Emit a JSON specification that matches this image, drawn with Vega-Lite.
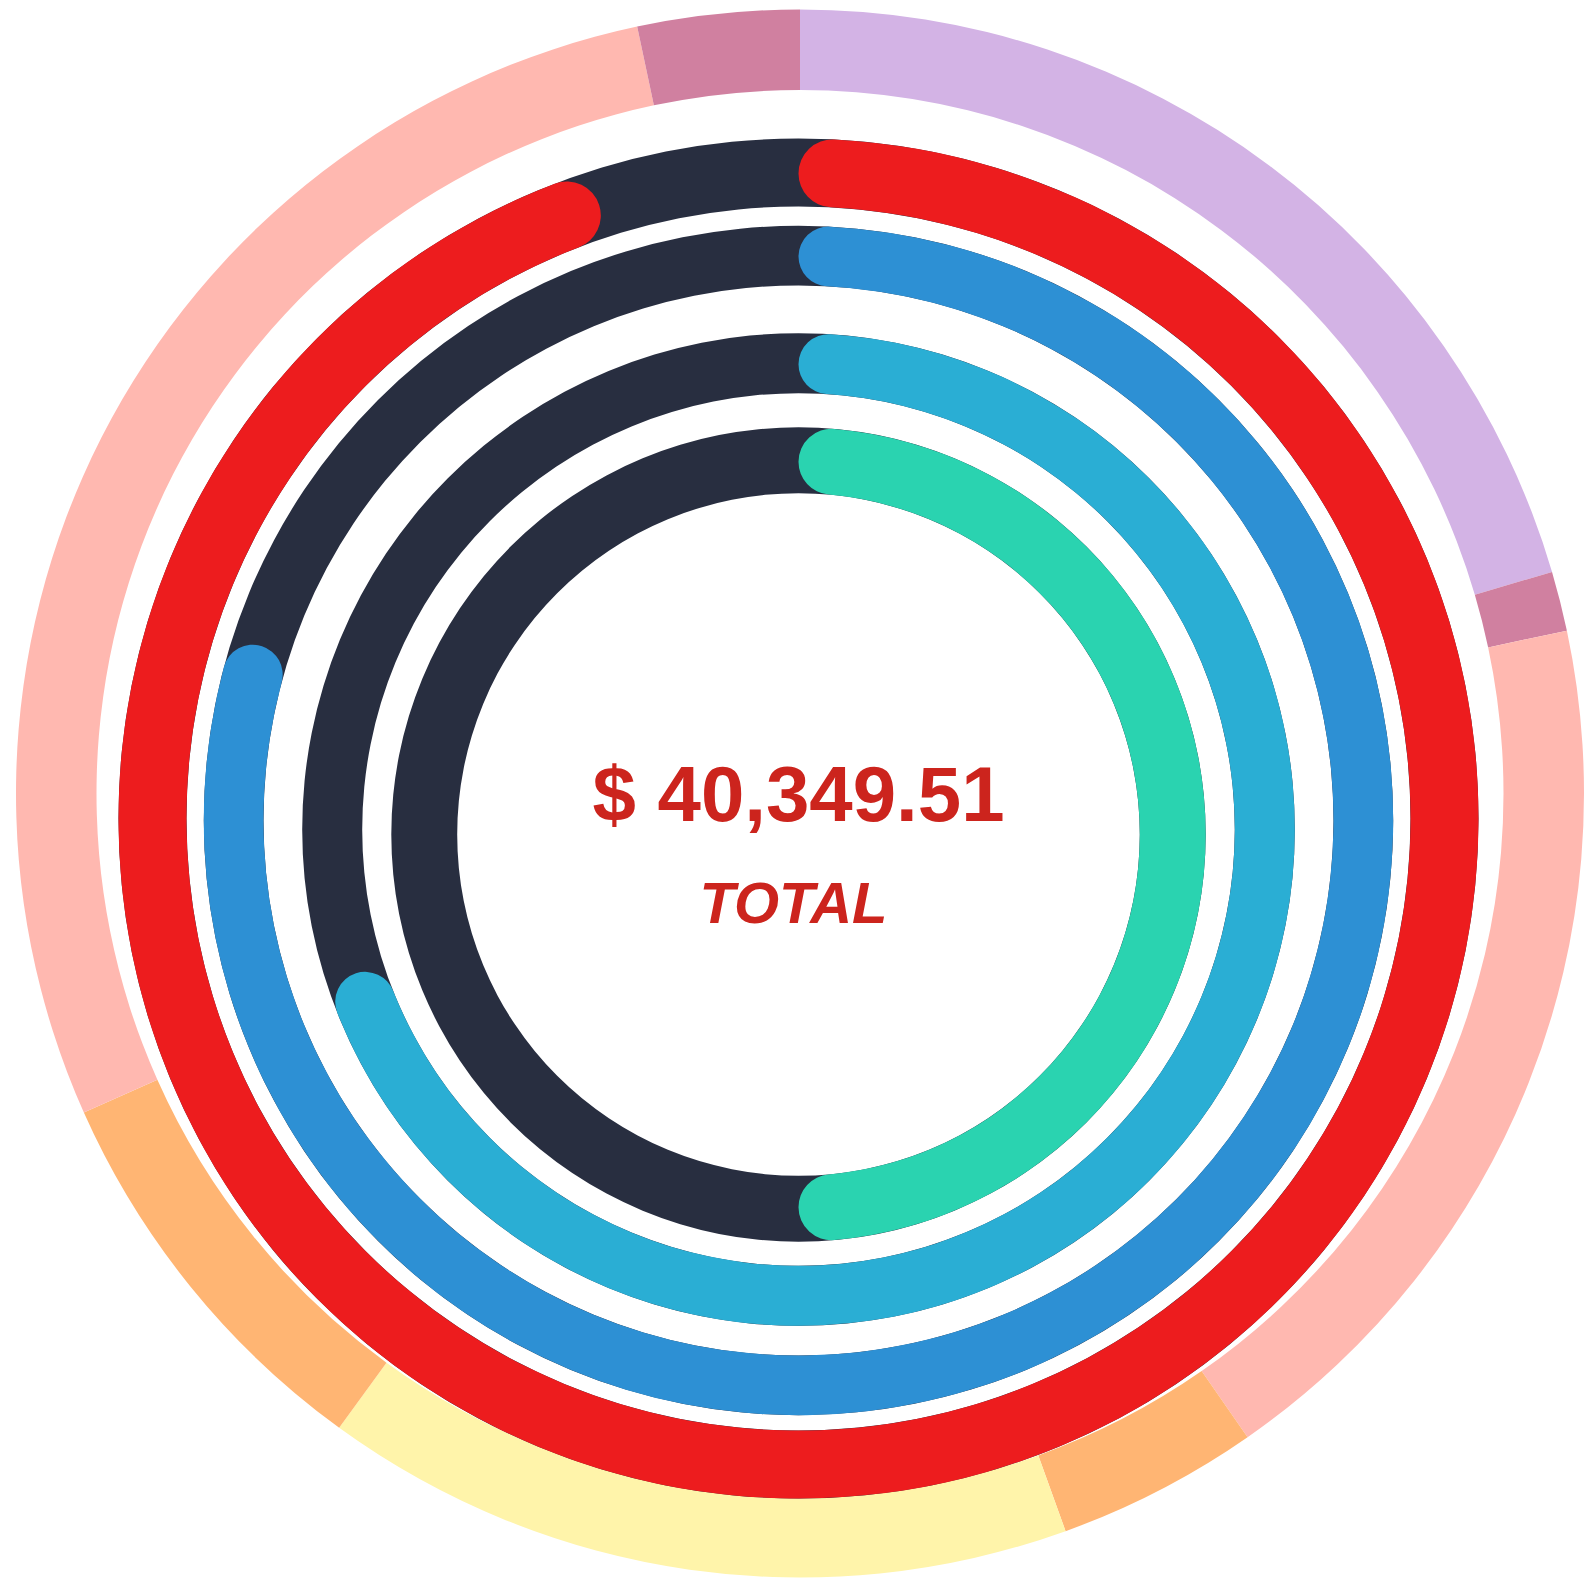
{
  "$schema": "https://vega.github.io/schema/vega-lite/v6.json",
  "width": 1577,
  "height": 1516,
  "autosize": {"type": "none"},
  "padding": {"left": 10, "top": 62, "right": 0, "bottom": 0},
  "background": "white",
  "config": {"view": {"stroke": null}},
  "datasets": {
    "outer": [
      {"group": "Purple", "start": 0, "end": 20.44},
      {"group": "Overlap", "start": 20.44, "end": 21.67},
      {"group": "Pink", "start": 21.67, "end": 40.33},
      {"group": "Orange", "start": 40.33, "end": 44.5},
      {"group": "Yellow", "start": 44.5, "end": 60},
      {"group": "Orange", "start": 60, "end": 68.33},
      {"group": "Pink", "start": 68.33, "end": 96.67},
      {"group": "Overlap", "start": 96.67, "end": 100}
    ],
    "rings": [
      {"ring": "Red", "value": 95},
      {"ring": "Blue", "value": 80},
      {"ring": "Sky", "value": 70},
      {"ring": "Teal", "value": 50}
    ],
    "label": [{"amount": "$ 40,349.51", "caption": "TOTAL"}]
  },
  "resolve": {"scale": {"color": "independent"}},
  "layer": [
    {
      "data": {"name": "outer"},
      "mark": {"type": "arc", "radius": 784, "radius2": 703.5, "xOffset": 1.5, "yOffset": -26.5},
      "encoding": {
        "theta": {"field": "start", "type": "quantitative", "stack": null, "scale": {"domain": [0, 100]}},
        "theta2": {"field": "end"},
        "color": {"field": "group", "type": "nominal", "legend": null,
          "scale": {"domain": ["Purple", "Overlap", "Pink", "Orange", "Yellow"], "range": ["#d3b3e5", "#d080a0", "#ffb8b0", "#ffb573", "#fff4aa"]}}
      }
    },
    {
      "data": {"name": "rings"},
      "transform": [{"filter": "datum.ring === 'Red'"}],
      "layer": [
        {"mark": {"type": "arc", "radius": 680, "radius2": 612, "color": "#282e40", "yOffset": -1.5},
         "encoding": {"theta": {"datum": 100, "type": "quantitative", "scale": {"domain": [0, 100]}}}},
        {"mark": {"type": "arc", "radius": 680, "radius2": 612, "cornerRadius": 34, "yOffset": -1.5},
         "encoding": {"theta": {"field": "value", "type": "quantitative", "stack": null, "scale": {"domain": [0, 100]}},
           "color": {"field": "ring", "type": "nominal", "legend": null, "scale": {"domain": ["Red", "Blue", "Sky", "Teal"], "range": ["#ed1c1e", "#2d90d4", "#2aaed4", "#2ad3b0"]}}}}
      ]
    },
    {
      "data": {"name": "rings"},
      "transform": [{"filter": "datum.ring === 'Blue'"}],
      "layer": [
        {"mark": {"type": "arc", "radius": 594.7, "radius2": 535, "color": "#282e40", "yOffset": 0.5},
         "encoding": {"theta": {"datum": 100, "type": "quantitative", "scale": {"domain": [0, 100]}}}},
        {"mark": {"type": "arc", "radius": 594.7, "radius2": 535, "cornerRadius": 30, "yOffset": 0.5},
         "encoding": {"theta": {"field": "value", "type": "quantitative", "stack": null, "scale": {"domain": [0, 100]}},
           "color": {"field": "ring", "type": "nominal", "legend": null, "scale": {"domain": ["Red", "Blue", "Sky", "Teal"], "range": ["#ed1c1e", "#2d90d4", "#2aaed4", "#2ad3b0"]}}}}
      ]
    },
    {
      "data": {"name": "rings"},
      "transform": [{"filter": "datum.ring === 'Sky'"}],
      "layer": [
        {"mark": {"type": "arc", "radius": 496.3, "radius2": 436.3, "color": "#282e40", "yOffset": 9.5},
         "encoding": {"theta": {"datum": 100, "type": "quantitative", "scale": {"domain": [0, 100]}}}},
        {"mark": {"type": "arc", "radius": 496.3, "radius2": 436.3, "cornerRadius": 30, "yOffset": 9.5},
         "encoding": {"theta": {"field": "value", "type": "quantitative", "stack": null, "scale": {"domain": [0, 100]}},
           "color": {"field": "ring", "type": "nominal", "legend": null, "scale": {"domain": ["Red", "Blue", "Sky", "Teal"], "range": ["#ed1c1e", "#2d90d4", "#2aaed4", "#2ad3b0"]}}}}
      ]
    },
    {
      "data": {"name": "rings"},
      "transform": [{"filter": "datum.ring === 'Teal'"}],
      "layer": [
        {"mark": {"type": "arc", "radius": 407.2, "radius2": 341.3, "color": "#282e40", "yOffset": 14.5},
         "encoding": {"theta": {"datum": 100, "type": "quantitative", "scale": {"domain": [0, 100]}}}},
        {"mark": {"type": "arc", "radius": 407.2, "radius2": 341.3, "cornerRadius": 33, "yOffset": 14.5},
         "encoding": {"theta": {"field": "value", "type": "quantitative", "stack": null, "scale": {"domain": [0, 100]}},
           "color": {"field": "ring", "type": "nominal", "legend": null, "scale": {"domain": ["Red", "Blue", "Sky", "Teal"], "range": ["#ed1c1e", "#2d90d4", "#2aaed4", "#2ad3b0"]}}}}
      ]
    },
    {
      "data": {"name": "label"},
      "layer": [
        {"mark": {"type": "text", "align": "center", "baseline": "alphabetic", "font": "Liberation Sans", "fontWeight": "bold", "fontSize": 78, "color": "#cc241d", "dx": 0, "dy": 1},
         "encoding": {"text": {"field": "amount", "type": "nominal"}}},
        {"mark": {"type": "text", "align": "center", "baseline": "alphabetic", "font": "Liberation Sans", "fontWeight": "bold", "fontStyle": "italic", "fontSize": 58, "color": "#cc241d", "dx": -5, "dy": 103},
         "encoding": {"text": {"field": "caption", "type": "nominal"}}}
      ]
    }
  ]
}
